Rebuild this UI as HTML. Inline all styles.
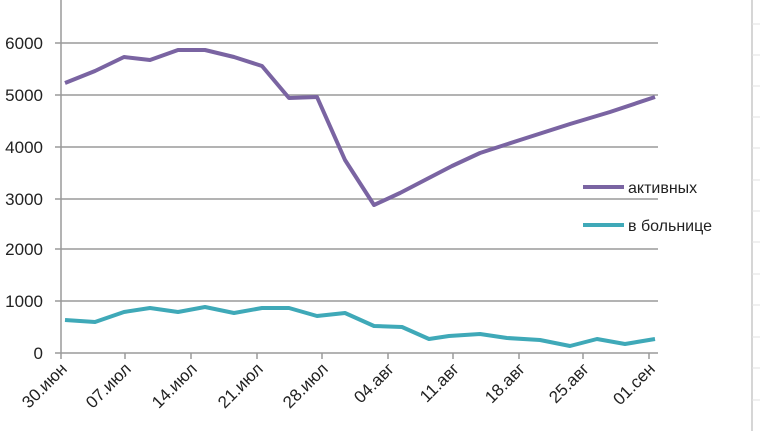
<!DOCTYPE html>
<html><head><meta charset="utf-8"><style>
body{margin:0;background:#fff;}
svg{display:block;font-family:"Liberation Sans","DejaVu Sans",sans-serif;}
</style></head><body>
<svg width="760" height="431" viewBox="0 0 760 431">
<g stroke="#9a9a9a" stroke-width="1.5">
<line x1="55" y1="43" x2="658" y2="43"/>
<line x1="55" y1="95" x2="658" y2="95"/>
<line x1="55" y1="147" x2="658" y2="147"/>
<line x1="55" y1="199" x2="658" y2="199"/>
<line x1="55" y1="249" x2="658" y2="249"/>
<line x1="55" y1="301" x2="658" y2="301"/>
<line x1="55" y1="353" x2="658" y2="353"/>
<line x1="61" y1="0" x2="61" y2="359"/>
</g>
<g stroke="#9a9a9a" stroke-width="1.5">
<line x1="125" y1="353" x2="125" y2="359"/><line x1="191" y1="353" x2="191" y2="359"/>
<line x1="257" y1="353" x2="257" y2="359"/><line x1="322" y1="353" x2="322" y2="359"/>
<line x1="388" y1="353" x2="388" y2="359"/><line x1="453" y1="353" x2="453" y2="359"/>
<line x1="519" y1="353" x2="519" y2="359"/><line x1="583" y1="353" x2="583" y2="359"/>
<line x1="649" y1="353" x2="649" y2="359"/>
</g>
<line x1="752" y1="0" x2="752" y2="431" stroke="#c8c8c8" stroke-width="1.5"/>
<g stroke="#e2e2e2" stroke-width="1">
<line x1="752" y1="24" x2="760" y2="24"/><line x1="752" y1="55" x2="760" y2="55"/><line x1="752" y1="86" x2="760" y2="86"/><line x1="752" y1="117" x2="760" y2="117"/><line x1="752" y1="148" x2="760" y2="148"/><line x1="752" y1="180" x2="760" y2="180"/><line x1="752" y1="211" x2="760" y2="211"/><line x1="752" y1="242" x2="760" y2="242"/><line x1="752" y1="274" x2="760" y2="274"/><line x1="752" y1="305" x2="760" y2="305"/><line x1="752" y1="337" x2="760" y2="337"/><line x1="752" y1="368" x2="760" y2="368"/><line x1="752" y1="400" x2="760" y2="400"/>
</g>
<g font-size="17" fill="#222" text-anchor="end">
<text x="43" y="49">6000</text><text x="43" y="101">5000</text><text x="43" y="153">4000</text>
<text x="43" y="205">3000</text><text x="43" y="255">2000</text><text x="43" y="307">1000</text><text x="43" y="359">0</text>
</g>
<g font-size="17" fill="#222" text-anchor="end">
<text transform="translate(68,370) rotate(-45)">30.июн</text>
<text transform="translate(132,370) rotate(-45)">07.июл</text>
<text transform="translate(198,370) rotate(-45)">14.июл</text>
<text transform="translate(264,370) rotate(-45)">21.июл</text>
<text transform="translate(329,370) rotate(-45)">28.июл</text>
<text transform="translate(395,370) rotate(-45)">04.авг</text>
<text transform="translate(460,370) rotate(-45)">11.авг</text>
<text transform="translate(526,370) rotate(-45)">18.авг</text>
<text transform="translate(590,370) rotate(-45)">25.авг</text>
<text transform="translate(656,370) rotate(-45)">01.сен</text>
</g>
<polyline fill="none" stroke="#7a64a2" stroke-width="4" stroke-linejoin="round" points="65,83 95,71 124,57 150,60 178,50 205,50 234,57 262,66 289,98 317,97 345,160 374,205 400,193 425,180 452,166 480,153 520,140 545,132 570,124 610,112 655,97"/>
<polyline fill="none" stroke="#3fa9b8" stroke-width="4" stroke-linejoin="round" points="65,320 95,322 124,312 150,308 178,312 205,307 234,313 262,308 289,308 317,316 345,313 374,326 402,327 429,339 449,336 480,334 507,338 540,340 570,346 597,339 625,344 655,339"/>
<line x1="583" y1="187" x2="624" y2="187" stroke="#7a64a2" stroke-width="4"/>
<line x1="583" y1="225" x2="624" y2="225" stroke="#3fa9b8" stroke-width="4"/>
<g font-size="16" fill="#222">
<text x="628" y="193">активных</text>
<text x="628" y="231">в больнице</text>
</g>
</svg>
</body></html>
